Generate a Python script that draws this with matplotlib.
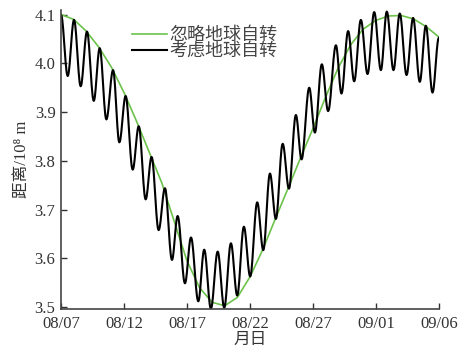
import numpy as np
import matplotlib.pyplot as plt

plt.rcParams["font.family"] = ["Liberation Serif", "Noto Sans CJK SC"]

# days counted from 08/07
tick_days = [0, 5, 10, 15, 20, 25, 30]
tick_labels = ["08/07", "08/12", "08/17", "08/22", "08/27", "09/01", "09/06"]

# distance without Earth rotation, one value per day (1e8 m)
green_days = np.arange(31)
green_vals = [4.100, 4.090, 4.066, 4.033, 3.992, 3.940, 3.881, 3.818, 3.755, 3.675,
              3.595, 3.540, 3.510, 3.503, 3.520, 3.562, 3.617, 3.680, 3.742, 3.805,
              3.866, 3.930, 3.990, 4.038, 4.070, 4.088, 4.097, 4.098, 4.091, 4.075,
              4.054]

# distance with Earth rotation: daily highs and lows (1e8 m)
peak_days = [0.0, 1.03, 2.06, 3.07, 4.13, 5.13, 6.17, 7.19, 8.25, 9.26,
             10.32, 11.37, 12.44, 13.49, 14.52, 15.58, 16.59, 17.60, 18.65, 19.71,
             20.71, 21.83, 22.80, 23.81, 24.87, 25.87, 26.90, 27.96, 28.97, 30.0]
peak_vals = [4.099, 4.089, 4.065, 4.031, 3.986, 3.933, 3.871, 3.808, 3.744, 3.687,
             3.643, 3.618, 3.614, 3.631, 3.665, 3.715, 3.774, 3.835, 3.894, 3.950,
             3.998, 4.037, 4.066, 4.089, 4.105, 4.106, 4.102, 4.093, 4.077, 4.052]
trough_days = [0.53, 1.56, 2.60, 3.60, 4.63, 5.69, 6.72, 7.75, 8.81, 9.84,
               10.90, 11.90, 12.96, 13.99, 15.02, 16.06, 17.06, 18.10, 19.10, 20.16,
               21.21, 22.27, 23.28, 24.34, 25.40, 26.40, 27.44, 28.49, 29.50]
trough_vals = [3.974, 3.953, 3.923, 3.885, 3.838, 3.782, 3.721, 3.658, 3.597, 3.549,
               3.512, 3.497, 3.499, 3.524, 3.563, 3.617, 3.681, 3.743, 3.803, 3.858,
               3.902, 3.938, 3.963, 3.978, 3.986, 3.986, 3.976, 3.962, 3.940]


def through_turning_points(days, vals, n=16):
    # half-cosine swing between each pair of successive extrema
    xs, ys = [], []
    for i in range(len(days) - 1):
        s = np.linspace(0, 1, n, endpoint=False)
        w = (1 - np.cos(np.pi * s)) / 2
        xs.append(days[i] + (days[i + 1] - days[i]) * s)
        ys.append(vals[i] + (vals[i + 1] - vals[i]) * w)
    xs.append([days[-1]])
    ys.append([vals[-1]])
    return np.concatenate(xs), np.concatenate(ys)


ext = sorted(zip(peak_days + trough_days, peak_vals + trough_vals))
bx, by = through_turning_points([e[0] for e in ext], [e[1] for e in ext])

fig = plt.figure(figsize=(4.59, 3.57), dpi=100)
ax = fig.add_axes([0.133, 0.134, 0.823, 0.839])

ax.plot(green_days, green_vals, color="#6cc24a", lw=1.2, label="忽略地球自转")
ax.plot(bx, by, color="black", lw=1.5, label="考虑地球自转")

ax.set_xlim(0, 30)
ax.set_ylim(3.496, 4.11)
ax.set_xticks(tick_days)
ax.set_xticklabels(tick_labels)
ax.set_yticks([3.5, 3.6, 3.7, 3.8, 3.9, 4.0, 4.1])
ax.set_yticklabels(["3.5", "3.6", "3.7", "3.8", "3.9", "4.0", "4.1"])
ax.tick_params(direction="in", length=4, width=1, labelsize=12,
               colors="#333333")
ax.tick_params(axis="x", pad=5)
ax.tick_params(axis="y", pad=4)
for side in ["top", "right"]:
    ax.spines[side].set_visible(False)
for side in ["left", "bottom"]:
    ax.spines[side].set_color("#444444")
    ax.spines[side].set_linewidth(1.2)

ax.set_xlabel("月日", fontsize=12, color="#333333", labelpad=0)
ax.set_ylabel("距离/10⁸ m", fontsize=12, color="#333333", labelpad=3)

leg = ax.legend(loc="upper left", bbox_to_anchor=(0.168, 0.965), frameon=False,
                fontsize=13, handlelength=1.95, handletextpad=0.15,
                labelspacing=-0.08, borderaxespad=0.0)
for t in leg.get_texts():
    t.set_color("#444444")

fig.savefig("out.png", dpi=100)
